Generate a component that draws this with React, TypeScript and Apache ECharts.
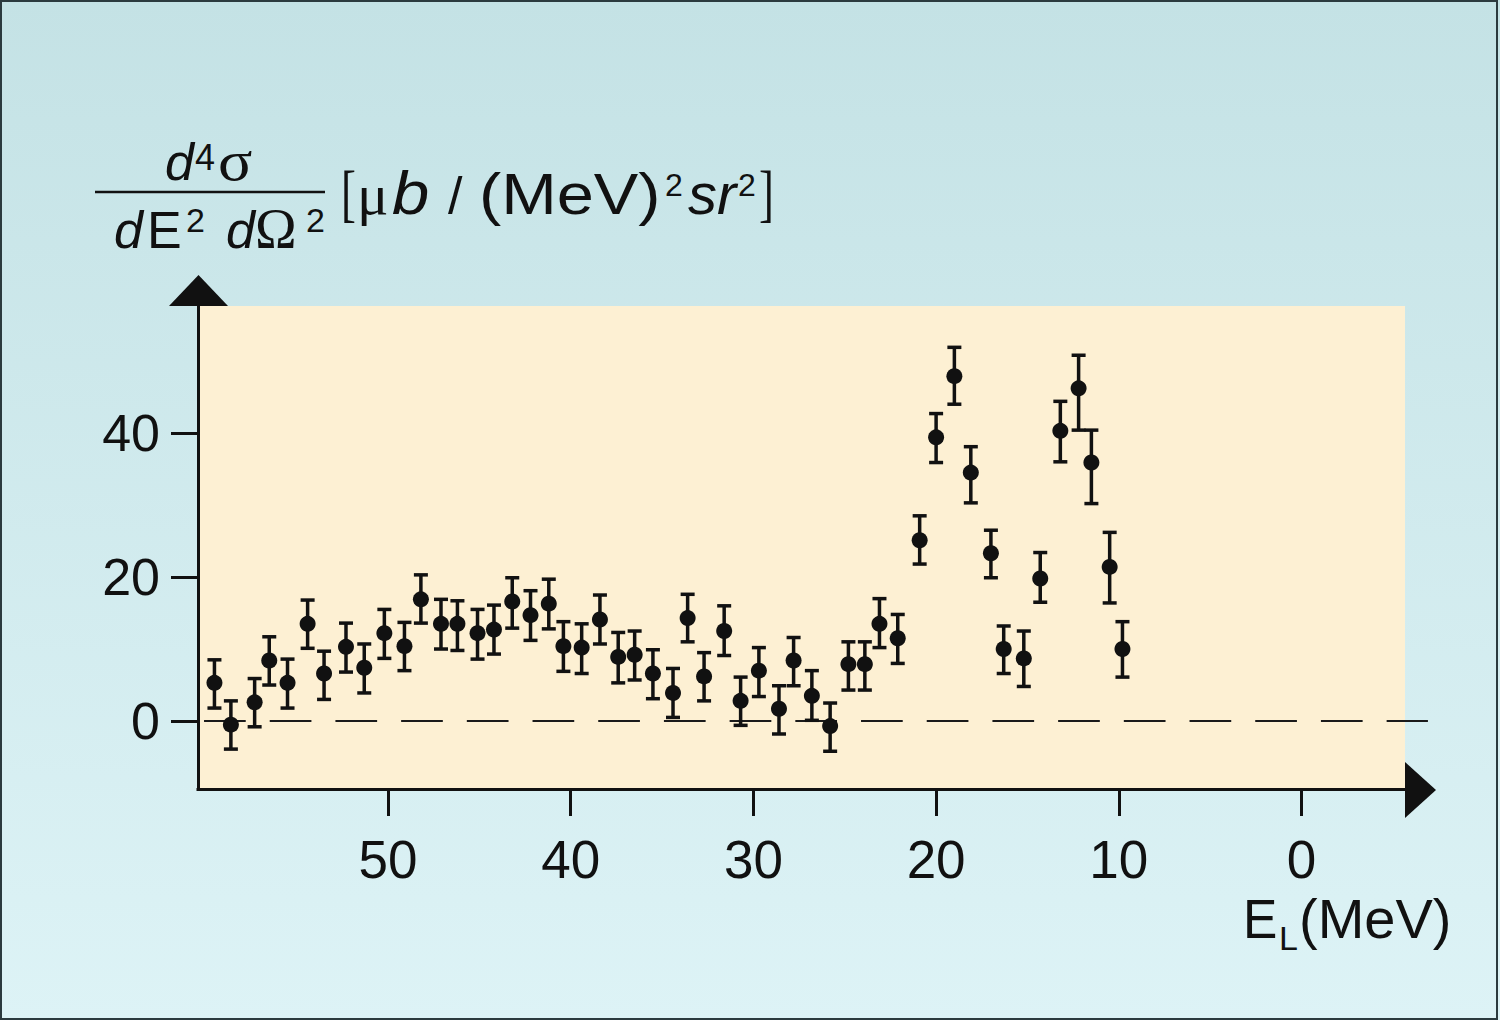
import React, { useEffect, useRef } from "react";
import * as echarts from "echarts";

// Energy loss E_L (MeV), measured cross-section and error-bar limits
const energy = [59.5, 58.6, 57.3, 56.5, 55.5, 54.4, 53.5, 52.3, 51.3, 50.2, 49.1, 48.2, 47.1, 46.2, 45.1, 44.2, 43.2, 42.2, 41.2, 40.4, 39.4, 38.4, 37.4, 36.5, 35.5, 34.4, 33.6, 32.7, 31.6, 30.7, 29.7, 28.6, 27.8, 26.8, 25.8, 24.8, 23.9, 23.1, 22.1, 20.9, 20.0, 19.0, 18.1, 17.0, 16.3, 15.2, 14.3, 13.2, 12.2, 11.5, 10.5, 9.8];
const value = [5.3, -0.5, 2.6, 8.4, 5.3, 13.5, 6.6, 10.3, 7.4, 12.2, 10.4, 16.9, 13.5, 13.5, 12.2, 12.7, 16.6, 14.7, 16.3, 10.4, 10.2, 14.1, 8.9, 9.2, 6.6, 3.9, 14.3, 6.2, 12.5, 2.8, 7.0, 1.7, 8.4, 3.5, -0.7, 7.9, 7.9, 13.5, 11.5, 25.1, 39.4, 47.9, 34.5, 23.3, 10.0, 8.7, 19.8, 40.3, 46.2, 35.9, 21.4, 10.0];
const upper = [8.5, 2.8, 5.9, 11.7, 8.6, 16.8, 9.7, 13.6, 10.7, 15.5, 13.7, 20.3, 16.9, 16.7, 15.5, 16.1, 19.9, 18.1, 19.7, 13.8, 13.5, 17.5, 12.3, 12.5, 9.9, 7.3, 17.6, 9.5, 16.0, 6.1, 10.2, 4.9, 11.6, 7.0, 2.5, 11.0, 11.0, 17.0, 14.8, 28.5, 42.7, 51.9, 38.1, 26.5, 13.2, 12.5, 23.4, 44.4, 50.8, 40.4, 26.2, 13.8];
const lower = [1.8, -3.9, -0.8, 5.0, 1.8, 10.1, 3.0, 6.8, 3.9, 8.7, 7.0, 13.6, 10.0, 9.8, 8.6, 9.3, 12.9, 11.2, 12.8, 6.9, 6.6, 10.7, 5.3, 5.7, 3.1, 0.5, 11.0, 2.8, 9.1, -0.6, 3.4, -1.8, 4.9, 0.1, -4.2, 4.3, 4.3, 10.2, 8.0, 21.8, 35.9, 44.0, 30.3, 19.9, 6.6, 4.8, 16.5, 36.0, 40.4, 30.2, 16.4, 6.1];

const xTicks = [0, 10, 20, 30, 40, 50];
const yTicks = [0, 20, 40];
const zeroLine = [[60.07, 0], [-6.92, 0]];

const SANS = "'Liberation Sans', Arial, sans-serif";
const SERIF = "'Liberation Serif', 'Times New Roman', serif";
const INK = "#111111";

function txt(text: string, x: number, baseline: number, size: number, opts: any = {}) {
  const family = opts.serif ? SERIF : SANS;
  const central = opts.serif ? 0.3375 : 0.3465;
  return {
    type: "text",
    x,
    y: baseline - central * size,
    scaleX: opts.sx || 1,
    z: 20,
    style: {
      text,
      fill: INK,
      fontSize: size,
      fontFamily: family,
      fontStyle: opts.italic ? "italic" : "normal",
      textAlign: "left",
      textVerticalAlign: "middle",
    },
  };
}

export default function App() {
  const ref = useRef<HTMLDivElement>(null);

  useEffect(() => {
    document.body.style.margin = "0";
    const chart = echarts.init(ref.current!, null, { renderer: "svg" });

    const errData = energy.map((e, i) => [e, lower[i], upper[i]]);
    const ptData = energy.map((e, i) => [e, value[i]]);

    const option: any = {
      animation: false,
      grid: {
        left: 198,
        top: 306,
        width: 1207,
        height: 483,
        show: true,
        backgroundColor: "#fdf0d3",
        borderWidth: 0,
      },
      xAxis: {
        type: "value",
        inverse: true,
        min: -5.665,
        max: 60.4,
        splitLine: { show: false },
        axisLine: { show: true, onZero: false, lineStyle: { color: INK, width: 3, cap: "square" } },
        axisTick: { show: true, customValues: xTicks, length: 27, lineStyle: { color: INK, width: 3 } },
        axisLabel: {
          customValues: xTicks,
          margin: 44,
          color: INK,
          fontSize: 53,
          fontFamily: SANS,
        },
      },
      yAxis: {
        type: "value",
        min: -9.44,
        max: 57.64,
        splitLine: { show: false },
        axisLine: { show: true, onZero: false, lineStyle: { color: INK, width: 3, cap: "square" } },
        axisTick: { show: true, customValues: yTicks, length: 27, lineStyle: { color: INK, width: 3 } },
        axisLabel: {
          customValues: yTicks,
          margin: 38,
          color: INK,
          fontSize: 52,
          fontFamily: SANS,
        },
      },
      series: [
        {
          type: "custom",
          data: errData,
          clip: false,
          z: 2,
          encode: { x: 0, y: [1, 2] },
          renderItem: (params: any, api: any) => {
            const x = api.value(0);
            const lo = api.coord([x, api.value(1)]);
            const hi = api.coord([x, api.value(2)]);
            const w = 7;
            const st = { stroke: INK, lineWidth: 3.5 };
            return {
              type: "group",
              children: [
                { type: "line", shape: { x1: hi[0], y1: hi[1], x2: lo[0], y2: lo[1] }, style: st },
                { type: "line", shape: { x1: hi[0] - w, y1: hi[1], x2: hi[0] + w, y2: hi[1] }, style: st },
                { type: "line", shape: { x1: lo[0] - w, y1: lo[1], x2: lo[0] + w, y2: lo[1] }, style: st },
              ],
            };
          },
        },
        {
          type: "scatter",
          data: ptData,
          symbol: "circle",
          symbolSize: 16,
          z: 3,
          itemStyle: { color: INK, opacity: 1 },
        },
      ],
      graphic: [
        {
          type: "rect",
          z: -10,
          shape: { x: 0, y: 0, width: 1500, height: 1020 },
          style: {
            fill: new echarts.graphic.LinearGradient(0, 0, 0, 1, [
              { offset: 0, color: "#c4e2e5" },
              { offset: 1, color: "#ddf3f6" },
            ]),
          },
        },
        {
          type: "rect",
          z: 30,
          shape: { x: 1, y: 1, width: 1496, height: 1018 },
          style: { fill: "none", stroke: "#2b3a3e", lineWidth: 2 },
        },
        // axis arrow heads
        {
          type: "polygon",
          z: 20,
          shape: { points: [[1405, 762], [1405, 818], [1436, 790]] },
          style: { fill: INK },
        },
        {
          type: "polygon",
          z: 20,
          shape: { points: [[169, 306], [228, 306], [198.5, 275]] },
          style: { fill: INK },
        },
        // y-axis title: fraction
        txt("d", 165, 180, 52, { italic: true }),
        txt("4", 195, 170, 36),
        txt("σ", 218, 180, 58, { serif: true, sx: 1.1 }),
        { type: "line", z: 20, shape: { x1: 95, y1: 192, x2: 325, y2: 192 }, style: { stroke: INK, lineWidth: 2.5 } },
        txt("d", 114, 248, 52, { italic: true }),
        txt("E", 147, 248, 52),
        txt("2", 186, 232, 34),
        txt("d", 226, 248, 52, { italic: true }),
        txt("Ω", 255, 248, 56, { serif: true }),
        txt("2", 306, 232, 34),
        // units
        txt("[", 341, 214, 64, { serif: true, sx: 0.7 }),
        txt("μ", 357, 214, 56, { serif: true, sx: 1.05 }),
        txt("b", 392, 214, 62, { italic: true, sx: 1.08 }),
        txt("/", 448, 214, 52),
        txt("(MeV)", 479, 214, 58, { sx: 1.15 }),
        txt("2", 665, 196, 32),
        txt("sr", 688, 214, 58, { italic: true }),
        txt("2", 738, 196, 32),
        txt("]", 759, 214, 64, { serif: true, sx: 0.7 }),
        // x-axis title
        txt("E", 1243, 938, 56, { sx: 0.92 }),
        txt("L", 1279, 950, 34),
        txt("(MeV)", 1299, 938, 56),
      ],
    };

    chart.setOption(option);

    // dashed zero reference line, extending past the plot area up to the arrow
    const p1 = chart.convertToPixel({ gridIndex: 0 }, zeroLine[0]) as number[];
    const p2 = chart.convertToPixel({ gridIndex: 0 }, zeroLine[1]) as number[];
    chart.setOption({
      graphic: [
        {
          id: "zeroLine",
          type: "line",
          z: 1,
          silent: true,
          shape: { x1: p1[0], y1: p1[1], x2: p2[0], y2: p2[1] },
          style: { stroke: "#1a1a1a", lineWidth: 2, lineDash: [41.7, 24] },
        },
      ],
    });

    return () => chart.dispose();
  }, []);

  return <div ref={ref} style={{ width: 1500, height: 1020 }} />;
}
